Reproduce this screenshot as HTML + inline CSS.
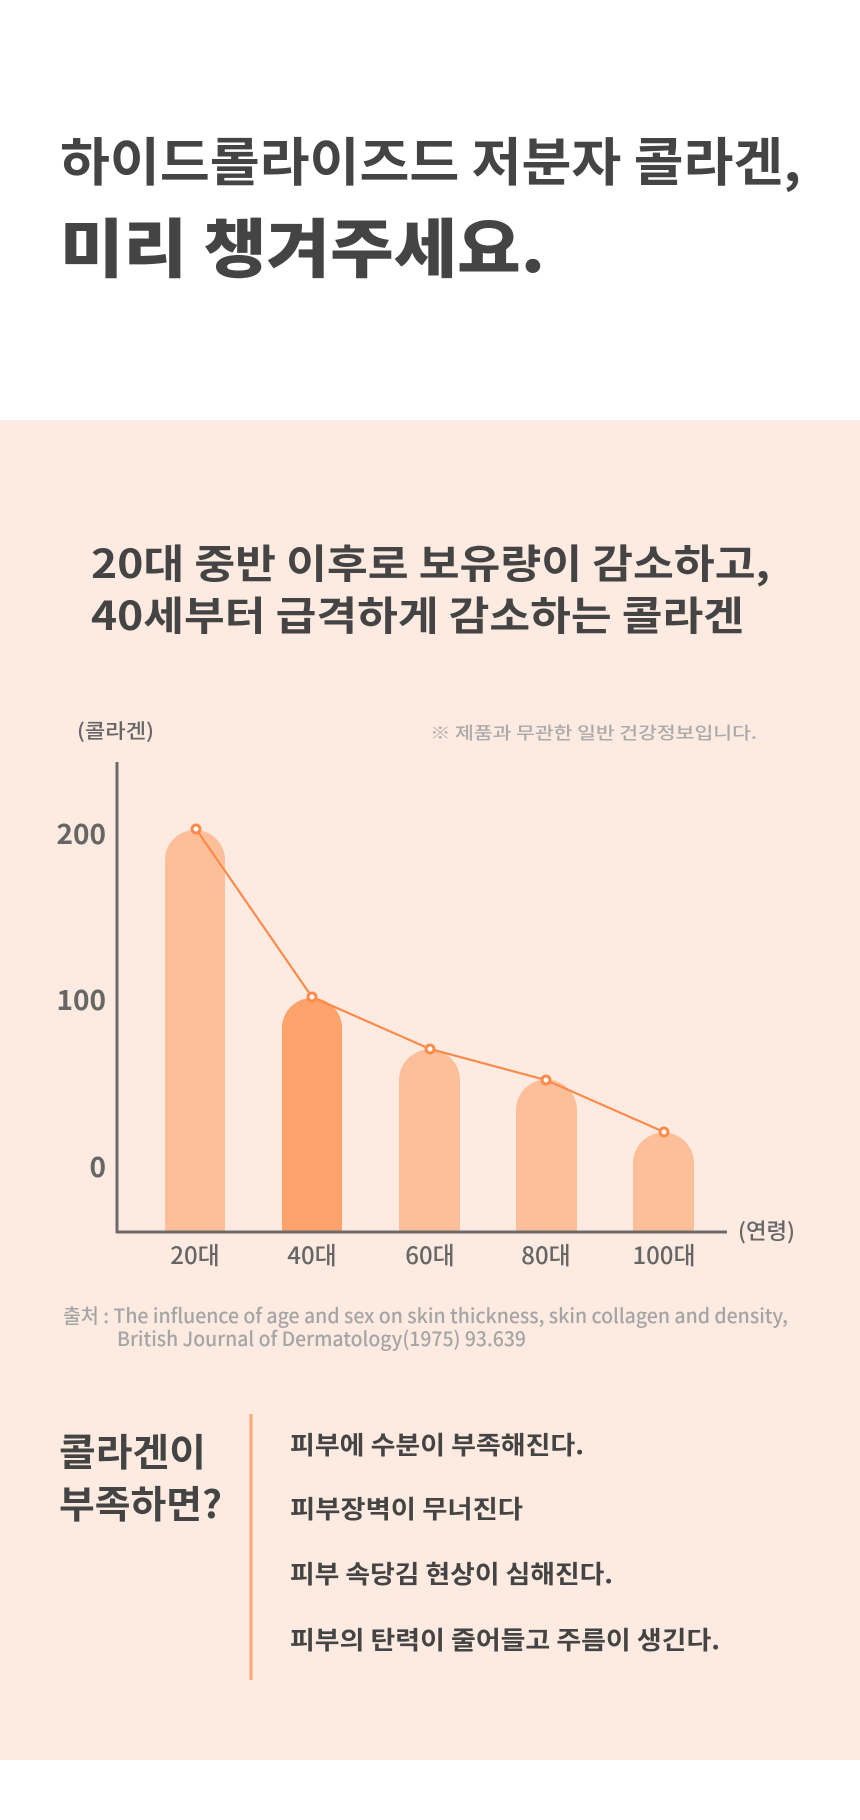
<!DOCTYPE html>
<html><head><meta charset="utf-8"><style>
html,body{margin:0;padding:0;background:#fff}
svg{display:block}
text{font-family:"Liberation Sans","Noto Sans CJK KR",sans-serif}
.k{font-family:"Noto Sans CJK KR","Liberation Sans",sans-serif}
</style></head><body>
<svg width="860" height="1820" viewBox="0 0 860 1820" xmlns="http://www.w3.org/2000/svg">
<rect x="0" y="0" width="860" height="420" fill="#ffffff"/>
<rect x="0" y="420" width="860" height="1340" fill="#fdeae0"/>
<g class="k" fill="#444">
<text x="60" y="181" font-size="52" font-weight="700" textLength="741" lengthAdjust="spacingAndGlyphs" class="k">하이드롤라이즈드 저분자 콜라겐,</text>
<text x="60" y="272" font-size="64" font-weight="900" textLength="485" lengthAdjust="spacingAndGlyphs" class="k">미리 챙겨주세요.</text>
<text x="91" y="578" font-size="40" font-weight="700" textLength="679" lengthAdjust="spacingAndGlyphs" class="k">20대 중반 이후로 보유량이 감소하고,</text>
<text x="91" y="630" font-size="40" font-weight="700" textLength="653" lengthAdjust="spacingAndGlyphs" class="k">40세부터 급격하게 감소하는 콜라겐</text>
</g>
<text x="77" y="738" font-size="20" font-weight="500" fill="#666" textLength="77" lengthAdjust="spacingAndGlyphs" class="k">(콜라겐)</text>
<text x="430" y="739" font-size="17" font-weight="500" fill="#aaa" textLength="327" lengthAdjust="spacingAndGlyphs" class="k">※ 제품과 무관한 일반 건강정보입니다.</text>
<g fill="#fdbf9a">
<path d="M165 1232 V860 A30 30 0 0 1 225 860 V1232 Z"/>
<path d="M282 1232 V1028 A30 30 0 0 1 342 1028 V1232 Z" fill="#fea26c"/>
<path d="M399 1232 V1080 A30 30 0 0 1 460 1080 V1232 Z"/>
<path d="M516 1232 V1110 A30 30 0 0 1 577 1110 V1232 Z"/>
<path d="M633 1232 V1163 A30 30 0 0 1 694 1163 V1232 Z"/>
</g>
<line x1="117" y1="762" x2="117" y2="1233" stroke="#6b6b6b" stroke-width="3"/>
<line x1="116" y1="1232" x2="727" y2="1232" stroke="#6b6b6b" stroke-width="3"/>
<polyline points="196,829 312,997 430,1049 546,1080 664,1132" fill="none" stroke="#fd8a4a" stroke-width="2.2"/>
<g fill="#fff" stroke="#fd8a4a" stroke-width="3">
<circle cx="196" cy="829" r="4"/><circle cx="312" cy="997" r="4"/><circle cx="430" cy="1049" r="4"/><circle cx="546" cy="1080" r="4"/><circle cx="664" cy="1132" r="4"/>
</g>
<g fill="#666" font-size="28" font-weight="700" text-anchor="end" class="k">
<text x="106" y="844" class="k">200</text>
<text x="106" y="1010" class="k">100</text>
<text x="106" y="1177" class="k">0</text>
</g>
<g fill="#666" font-size="24" font-weight="500" text-anchor="middle" class="k">
<text x="195" y="1264" class="k">20대</text>
<text x="312" y="1264" class="k">40대</text>
<text x="430" y="1264" class="k">60대</text>
<text x="546" y="1264" class="k">80대</text>
<text x="664" y="1264" class="k">100대</text>
</g>
<text x="738" y="1239" font-size="22" font-weight="500" fill="#666" textLength="57" lengthAdjust="spacingAndGlyphs" class="k">(연령)</text>
<text x="63" y="1323" font-size="20" font-weight="500" fill="#a5a5a5" textLength="725" lengthAdjust="spacingAndGlyphs" class="k">출처 : The influence of age and sex on skin thickness, skin collagen and density,</text>
<text x="117" y="1346" font-size="20" font-weight="500" fill="#a5a5a5" textLength="409" lengthAdjust="spacingAndGlyphs" class="k">British Journal of Dermatology(1975) 93.639</text>
<line x1="251" y1="1414" x2="251" y2="1680" stroke="#f7a878" stroke-width="3"/>
<g fill="#444" font-weight="700" class="k">
<text x="59" y="1466" font-size="38" textLength="147" lengthAdjust="spacingAndGlyphs" class="k">콜라겐이</text>
<text x="59" y="1518" font-size="38" textLength="163" lengthAdjust="spacingAndGlyphs" class="k">부족하면?</text>
<text x="290" y="1454" font-size="25" textLength="294" lengthAdjust="spacingAndGlyphs" class="k">피부에 수분이 부족해진다.</text>
<text x="290" y="1518" font-size="25" textLength="233" lengthAdjust="spacingAndGlyphs" class="k">피부장벽이 무너진다</text>
<text x="290" y="1583" font-size="25" textLength="323" lengthAdjust="spacingAndGlyphs" class="k">피부 속당김 현상이 심해진다.</text>
<text x="290" y="1649" font-size="25" textLength="430" lengthAdjust="spacingAndGlyphs" class="k">피부의 탄력이 줄어들고 주름이 생긴다.</text>
</g>
</svg>
</body></html>
